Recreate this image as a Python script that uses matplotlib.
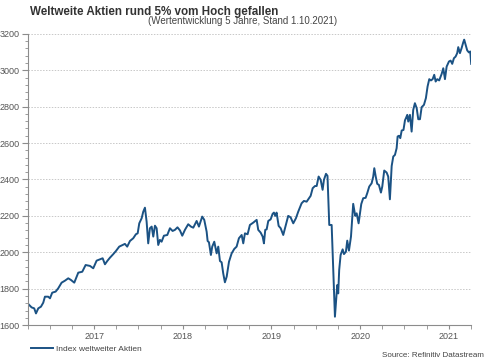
# -*- coding: UTF-8 -*-
import matplotlib as mpl
import matplotlib.pyplot as plt
from matplotlib.ticker import MultipleLocator, FixedLocator, NullFormatter

mpl.rcParams['font.family'] = ['Liberation Sans', 'DejaVu Sans']

jahre = [
    2016.750, 2016.795, 2016.824, 2016.844, 2016.870, 2016.900, 2016.926, 2016.945, 2016.982, 2017.002,
    2017.027, 2017.066, 2017.095, 2017.133, 2017.171, 2017.208, 2017.238, 2017.276, 2017.321, 2017.366,
    2017.404, 2017.453, 2017.490, 2017.528, 2017.565, 2017.596, 2017.622, 2017.648, 2017.678, 2017.716,
    2017.746, 2017.783, 2017.822, 2017.847, 2017.873, 2017.904, 2017.941, 2017.971, 2017.991, 2018.009,
    2018.036, 2018.054, 2018.073, 2018.092, 2018.110, 2018.129, 2018.149, 2018.167, 2018.186, 2018.205,
    2018.223, 2018.242, 2018.261, 2018.287, 2018.325, 2018.355, 2018.385, 2018.411, 2018.440, 2018.468,
    2018.494, 2018.524, 2018.561, 2018.592, 2018.618, 2018.656, 2018.682, 2018.719, 2018.742, 2018.769,
    2018.780, 2018.795, 2018.817, 2018.832, 2018.855, 2018.882, 2018.900, 2018.919, 2018.938, 2018.956,
    2018.975, 2018.995, 2019.021, 2019.051, 2019.080, 2019.107, 2019.133, 2019.164, 2019.182, 2019.201,
    2019.231, 2019.257, 2019.295, 2019.333, 2019.351, 2019.378, 2019.401, 2019.415, 2019.430, 2019.446,
    2019.464, 2019.491, 2019.513, 2019.528, 2019.543, 2019.558, 2019.581, 2019.604, 2019.633, 2019.663,
    2019.689, 2019.716, 2019.746, 2019.776, 2019.802, 2019.840, 2019.866, 2019.897, 2019.915, 2019.942,
    2019.965, 2019.991, 2020.010, 2020.032, 2020.055, 2020.077, 2020.092, 2020.115, 2020.132, 2020.152,
    2020.179, 2020.216, 2020.242, 2020.253, 2020.264, 2020.280, 2020.303, 2020.318, 2020.340, 2020.355,
    2020.374, 2020.397, 2020.422, 2020.445, 2020.461, 2020.483, 2020.513, 2020.535, 2020.562, 2020.580,
    2020.603, 2020.630, 2020.648, 2020.660, 2020.676, 2020.693, 2020.712, 2020.735, 2020.750, 2020.772,
    2020.799, 2020.817, 2020.836, 2020.856, 2020.874, 2020.893, 2020.912, 2020.923, 2020.938, 2020.953,
    2020.969, 2020.989, 2021.006, 2021.017, 2021.032, 2021.043, 2021.062, 2021.081, 2021.099, 2021.118,
    2021.138, 2021.156, 2021.175, 2021.194, 2021.220, 2021.242, 2021.261, 2021.280, 2021.299, 2021.318,
    2021.336, 2021.352, 2021.370, 2021.392, 2021.420, 2021.438, 2021.457, 2021.476, 2021.502, 2021.521,
    2021.539, 2021.558, 2021.577, 2021.595, 2021.607, 2021.626, 2021.645, 2021.663, 2021.674, 2021.690,
    2021.708, 2021.727, 2021.742, 2021.753,
]
index_werte = [
    1719, 1697, 1692, 1664, 1692, 1701, 1723, 1756, 1756, 1747,
    1778, 1784, 1802, 1833, 1844, 1857, 1848, 1833, 1888, 1893,
    1930, 1925, 1912, 1954, 1961, 1967, 1934, 1952, 1970, 1990,
    2007, 2031, 2040, 2046, 2031, 2062, 2077, 2099, 2104, 2159,
    2187, 2223, 2245, 2168, 2049, 2132, 2141, 2086, 2146, 2132,
    2040, 2068, 2058, 2091, 2095, 2132, 2117, 2123, 2137, 2120,
    2091, 2123, 2154, 2141, 2135, 2172, 2141, 2196, 2178, 2113,
    2062, 2055, 1985, 2031, 2058, 1994, 2031, 1952, 1945, 1884,
    1835, 1866, 1948, 1994, 2018, 2031, 2077, 2095, 2049, 2104,
    2099, 2150, 2163, 2178, 2123, 2108, 2086, 2049, 2123, 2126,
    2172, 2181, 2211, 2218, 2200, 2218, 2145, 2132, 2095, 2150,
    2200, 2192, 2159, 2187, 2223, 2269, 2282, 2278, 2291, 2310,
    2352, 2364, 2364, 2416, 2398, 2343, 2398, 2431, 2420, 2150,
    2150, 1646, 1820, 1774, 1903, 1985, 2016, 1990, 2003, 2064,
    2009, 2086, 2266, 2200, 2214, 2159, 2265, 2297, 2299, 2324,
    2361, 2379, 2416, 2462, 2416, 2376, 2370, 2328, 2361, 2449,
    2438, 2416, 2291, 2474, 2526, 2535, 2572, 2636, 2640, 2627,
    2669, 2672, 2725, 2737, 2755, 2718, 2755, 2663, 2782, 2819,
    2792, 2731, 2731, 2797, 2810, 2847, 2911, 2951, 2944, 2951,
    2975, 2938, 2951, 2944, 2980, 3011, 2951, 3020, 3048, 3053,
    3035, 3066, 3075, 3094, 3127, 3094, 3122, 3153, 3168, 3140,
    3109, 3098, 3103, 3035,
]
jahr_labels = ['2017', '2018', '2019', '2020', '2021']
jahr_mitte = [2017.5, 2018.5, 2019.5, 2020.5, 2021.5]

fig = plt.figure(figsize=(4.85, 3.6), dpi=100)
ax = fig.add_axes([0.057, 0.097, 0.914, 0.809])

ax.plot(jahre, index_werte, color='#1b5284', linewidth=1.4, label='Index weltweiter Aktien')

ax.set_xlim(2016.75, 2021.75)
ax.set_ylim(1600, 3200)

ax.yaxis.set_major_locator(MultipleLocator(200))
ax.yaxis.set_minor_locator(MultipleLocator(40))
ax.xaxis.set_major_locator(FixedLocator(jahr_mitte))
ax.xaxis.set_minor_locator(MultipleLocator(0.25))
ax.set_xticklabels(jahr_labels)
ax.xaxis.set_minor_formatter(NullFormatter())

ax.grid(axis='y', which='major', linestyle=(0, (1.5, 1.5)), color='#c8c8c8', linewidth=0.7)
ax.set_axisbelow(True)

for s in ['top', 'right']:
    ax.spines[s].set_visible(False)
for s in ['left', 'bottom']:
    ax.spines[s].set_color('#8c8c8c')
    ax.spines[s].set_linewidth(0.8)

ax.tick_params(axis='y', which='major', length=4, color='#8c8c8c', labelsize=6.5, labelcolor='#555555', pad=2)
ax.tick_params(axis='y', which='minor', length=2, color='#8c8c8c')
ax.tick_params(axis='x', which='both', length=3, color='#8c8c8c', labelsize=6.5, labelcolor='#555555', pad=2)

fig.text(0.062, 0.968, 'Weltweite Aktien rund 5% vom Hoch gefallen', fontsize=8.4, fontweight='bold',
         color='#333333', ha='left', va='center')
fig.text(0.5, 0.941, '(Wertentwicklung 5 Jahre, Stand 1.10.2021)', fontsize=7, color='#444444',
         ha='center', va='center')

ax.legend(loc='upper left', bbox_to_anchor=(0.0, -0.058), frameon=False, fontsize=6,
          handlelength=2.6, labelcolor='#444444', borderaxespad=0, handletextpad=0.4)

fig.text(0.997, 0.004, 'Source: Refinitiv Datastream', fontsize=5.8, color='#444444', ha='right', va='bottom')

fig.savefig('out.png', dpi=100)
